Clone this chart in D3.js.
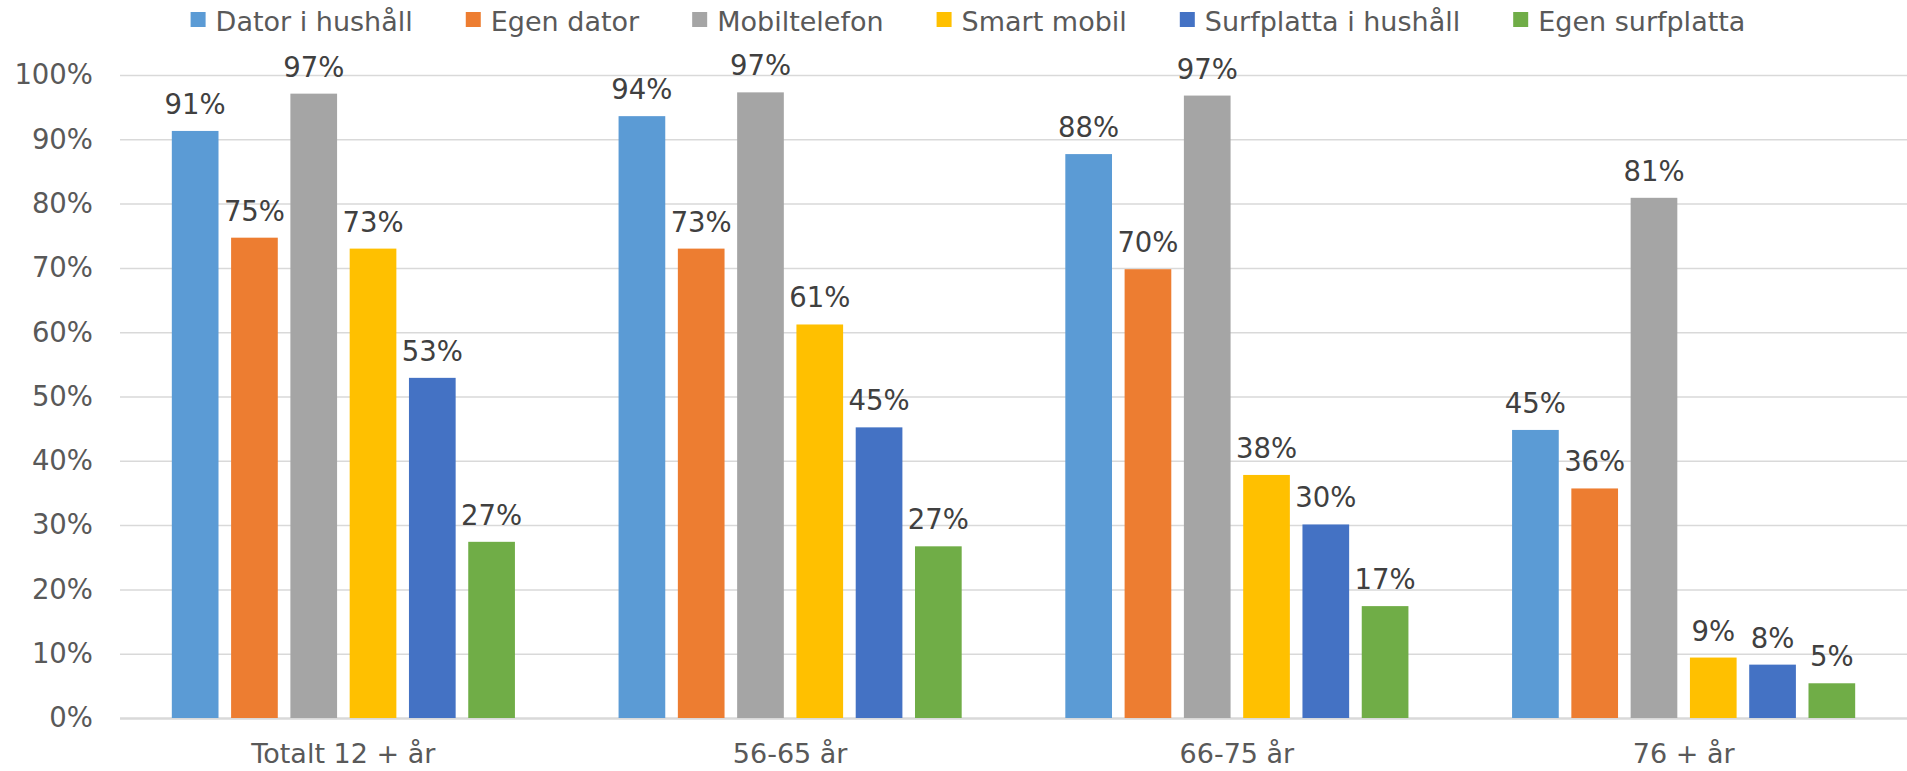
<!DOCTYPE html>
<html>
<head>
<meta charset="utf-8">
<script src="https://cdn.jsdelivr.net/npm/d3@7"></script>
<style>
  body { margin: 0; background: #fff; }
  text { font-family: "DejaVu Sans", Verdana, sans-serif; }
</style>
</head>
<body>
<svg id="chart" width="1907" height="771"></svg>
<script>
var categories = ["Totalt 12 + år", "56-65 år", "66-75 år", "76 + år"];
var series = ["Dator i hushåll", "Egen dator", "Mobiltelefon", "Smart mobil", "Surfplatta i hushåll", "Egen surfplatta"];
var colors = ["#5B9BD5", "#ED7D31", "#A5A5A5", "#FFC000", "#4472C4", "#70AD47"];

// share per category, same order as series
var datorHushall   = [0.913, 0.936, 0.877, 0.448];
var egenDator      = [0.747, 0.730, 0.698, 0.357];
var mobiltelefon   = [0.971, 0.973, 0.968, 0.809];
var smartMobil     = [0.730, 0.612, 0.378, 0.094];
var surfHushall    = [0.529, 0.452, 0.301, 0.083];
var egenSurfplatta = [0.274, 0.267, 0.174, 0.054];

var yTicks = [0, 0.1, 0.2, 0.3, 0.4, 0.5, 0.6, 0.7, 0.8, 0.9, 1.0];

var values = [datorHushall, egenDator, mobiltelefon, smartMobil, surfHushall, egenSurfplatta];
var data = categories.map(function(c, i) {
    return { cat: c, vals: series.map(function(s, j) { return { key: s, value: values[j][i] }; }) };
});

var svg = d3.select("#chart"),
    margin = {top: 75, right: 0, bottom: 53, left: 120},
    width = svg.attr("width") - margin.left - margin.right,
    height = svg.attr("height") - margin.top - margin.bottom;

var x0 = d3.scaleBand().domain(categories).range([0, width]).padding(0);
var x1 = d3.scaleBand().domain(series).range([0, x0.bandwidth()])
    .paddingInner(0.2125).paddingOuter(0.874);
var y = d3.scaleLinear().domain([0, 1]).range([height, 0]);
var z = d3.scaleOrdinal().domain(series).range(colors);
var pct = d3.format(".0%");

var g = svg.append("g")
    .attr("transform", "translate(" + margin.left + "," + margin.top + ")");

// gridlines
var yAxis = g.append("g")
    .call(d3.axisLeft(y).tickValues(yTicks).tickFormat(pct).tickSize(-width).tickPadding(27));
yAxis.select(".domain").remove();
yAxis.selectAll(".tick line")
    .attr("stroke", "#D9D9D9")
    .attr("stroke-width", function(d) { return d === 0 ? 2.5 : 1.5; });
yAxis.selectAll(".tick text")
    .attr("fill", "#595959")
    .style("font-size", "27.5px");

// bars
var group = g.selectAll(".group")
    .data(data)
    .enter().append("g")
    .attr("class", "group")
    .attr("transform", function(d) { return "translate(" + x0(d.cat) + ",0)"; });

group.selectAll("rect")
    .data(function(d) { return d.vals; })
    .enter().append("rect")
    .attr("x", function(d) { return x1(d.key); })
    .attr("y", function(d) { return y(d.value); })
    .attr("width", x1.bandwidth())
    .attr("height", function(d) { return y(0) - y(d.value); })
    .attr("fill", function(d) { return z(d.key); });

group.selectAll(".label")
    .data(function(d) { return d.vals; })
    .enter().append("text")
    .attr("class", "label")
    .attr("x", function(d) { return x1(d.key) + x1.bandwidth() / 2; })
    .attr("y", function(d) { return y(d.value) - 17; })
    .attr("text-anchor", "middle")
    .attr("fill", "#404040")
    .style("font-size", "27.5px")
    .text(function(d) { return pct(d.value); });

// x axis labels
var xAxis = g.append("g")
    .attr("transform", "translate(0," + height + ")")
    .call(d3.axisBottom(x0).tickSize(0).tickPadding(0));
xAxis.select(".domain").remove();
xAxis.selectAll(".tick text")
    .attr("dy", null)
    .attr("y", 45)
    .attr("fill", "#595959")
    .style("font-size", "27px");

// legend
var legend = svg.append("g").attr("class", "legend");
var items = legend.selectAll(".item")
    .data(series)
    .enter().append("g")
    .attr("class", "item");
items.append("rect")
    .attr("y", 12)
    .attr("width", 15)
    .attr("height", 15)
    .attr("fill", function(d) { return z(d); });
items.append("text")
    .attr("x", 25)
    .attr("y", 31)
    .attr("fill", "#595959")
    .style("font-size", "27px")
    .text(function(d) { return d; });

var widths = [];
items.each(function() { widths.push(this.querySelector("text").getComputedTextLength() + 25); });
var gap = 53;
var total = d3.sum(widths) + gap * (widths.length - 1);
var pos = 968 - total / 2;
items.attr("transform", function(d, i) {
    var t = "translate(" + pos + ",0)";
    pos += widths[i] + gap;
    return t;
});
</script>
</body>
</html>
